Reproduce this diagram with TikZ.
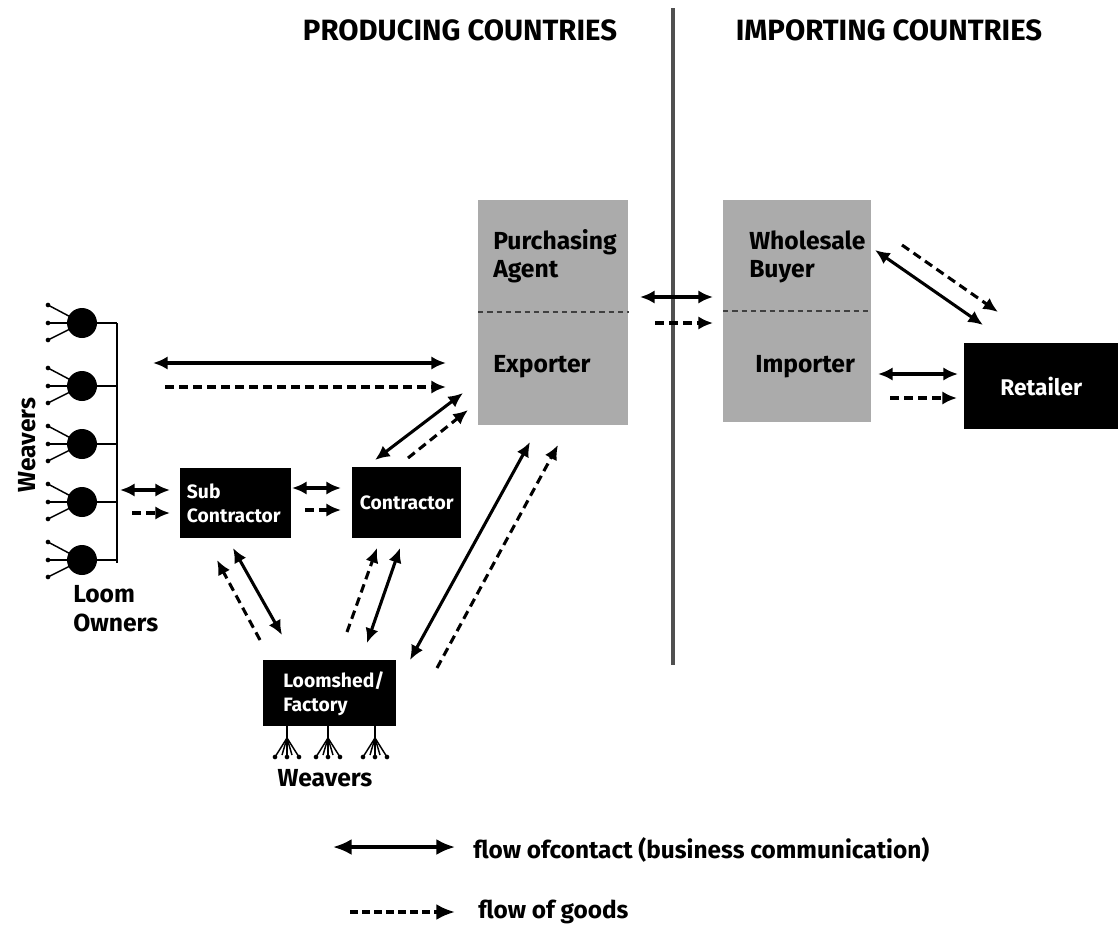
\documentclass[tikz,border=0pt]{standalone}
\usepackage{fontspec}
\setmainfont{Fira Sans}
\usetikzlibrary{arrows.meta}
\definecolor{boxgray}{RGB}{171,171,171}
\definecolor{linegray}{RGB}{80,80,80}

\begin{document}
\begin{tikzpicture}[x=0.75pt,y=-0.75pt]
\tikzset{black box/.style={shape=rectangle,fill=black,text=white,anchor=north west,inner sep=0pt,font=\bfseries\fontsize{14.5}{18.5}\selectfont},
         gray box/.style={shape=rectangle,fill=boxgray,anchor=north west,inner sep=0pt},
         box text/.style={anchor=west,align=left,inner sep=0pt,font=\bfseries\fontsize{18.5}{21}\selectfont},
         title/.style={inner sep=0pt,font=\bfseries\fontsize{22}{26}\selectfont},
         label text/.style={inner sep=0pt,font=\bfseries\fontsize{18.5}{21.75}\selectfont},
         contact/.style={line width=2.3pt,{Latex[length=11pt,width=10pt]}-{Latex[length=11pt,width=10pt]}},
         goods/.style={line width=2.3pt,dash pattern=on 6.5pt off 4pt,-{Latex[length=11pt,width=10pt]}},
         loom owner/.style={shape=circle,fill=black,minimum size=22.5pt,inner sep=0pt},
         weaver dot/.style={shape=circle,fill=black,minimum size=3.5pt,inner sep=0pt},
         weaver line/.style={line width=1.1pt},
}
\useasboundingbox (0,0) rectangle (1120,926);

% headings and border line
\node[title] (prod) at (460,30) {PRODUCING COUNTRIES};
\node[title] (imp)  at (889,30) {IMPORTING COUNTRIES};
\coordinate (bordertop) at (673,8);
\coordinate (borderbot) at (673,665);
\draw[line width=2.8pt, linegray] (bordertop) -- (borderbot);

% producing side
\node[gray box, minimum width=112.5pt, minimum height=168.75pt] (expbox) at (478,200) {};
\draw[line width=1pt, black!75, dash pattern=on 4pt off 3pt] (expbox.west |- 0,312) -- (expbox.east |- 0,312);
\node[box text] (pa)  at (493,256) {Purchasing\\Agent};
\node[box text] (exp) at (493,367) {Exporter};

\node[black box, minimum width=81pt, minimum height=52.5pt, text width=73pt, inner xsep=5pt, align=left] (sub) at (180,468) {Sub\\Contractor};
\node[black box, minimum width=81.75pt, minimum height=53.25pt, align=center] (con) at (352,467) {Contractor};
\node[black box, minimum width=99.75pt, minimum height=49.5pt, text width=69.75pt, inner xsep=15pt, align=left, font=\bfseries\fontsize{14.5}{18}\selectfont] (shed) at (263,660) {Loomshed/\\Factory};

% importing side
\node[gray box, minimum width=111pt, minimum height=166.5pt] (impbox) at (723,200) {};
\draw[line width=1pt, black!75, dash pattern=on 4pt off 3pt] (impbox.west |- 0,311) -- (impbox.east |- 0,311);
\node[box text] (wb)  at (749,257) {Wholesale\\Buyer};
\node[box text] (imr) at (755,367) {Importer};
\node[black box, minimum width=115.5pt, minimum height=64.5pt, font=\bfseries\fontsize{17}{20}\selectfont] (ret) at (964,343) {Retailer};

% loom owners with their weavers
\coordinate (bustop) at (117,323);
\coordinate (busbot) at (117,563);
\draw[line width=1.4pt] (bustop) -- (busbot);
\foreach \i/\y in {1/323,2/386,3/444,4/502,5/560}{
  \draw[line width=1.4pt] (82,\y) -- (117,\y);
  \foreach \dy [count=\j] in {-18,0,17}{
    \draw[weaver line] (82,\y) -- (48,\y+\dy);
    \node[weaver dot] (dot\i\j) at (48,\y+\dy) {};
  }
  \node[loom owner] (lo\i) at (82,\y) {};
}
\node[label text, rotate=90] (wv) at (27,445) {Weavers};
\node[label text, anchor=north west, align=left] (owners) at (73,585) {Loom\\Owners};

% weavers of the loomshed
\foreach \x [count=\i] in {287,328,375}{
  \draw[weaver line] (\x,726) -- (\x,738);
  \draw[weaver line] (\x,738) -- (\x-5,755) (\x,738) -- (\x+5,755);
  \foreach \dx [count=\j] in {-12,0,12}{
    \draw[weaver line] (\x,738) -- (\x+\dx,757);
    \node[weaver dot] (sd\i\j) at (\x+\dx,757) {};
  }
}
\node[label text] (wv2) at (325,778) {Weavers};

% arrow ends
\coordinate (b1) at (120,490);  \coordinate (b2) at (170,490);
\coordinate (b3) at (132,513);  \coordinate (b4) at (170,513);
\coordinate (l1) at (153,363);  \coordinate (l2) at (446,363);
\coordinate (l3) at (165,387);  \coordinate (l4) at (446,387);
\coordinate (s1) at (292,488);  \coordinate (s2) at (341,488);
\coordinate (s3) at (305,510);  \coordinate (s4) at (341,510);
\coordinate (c1) at (375,460);  \coordinate (c2) at (463,393);
\coordinate (c3) at (408,458);  \coordinate (c4) at (468,410);
\coordinate (f1) at (410,660);  \coordinate (f2) at (530,442);
\coordinate (f3) at (437,668);  \coordinate (f4) at (558,445);
\coordinate (g1) at (367,643);  \coordinate (g2) at (400,548);
\coordinate (g3) at (347,632);  \coordinate (g4) at (377,548);
\coordinate (h1) at (233,548);  \coordinate (h2) at (282,635);
\coordinate (h3) at (260,640);  \coordinate (h4) at (217,560);
\coordinate (e1) at (640,297);  \coordinate (e2) at (713,297);
\coordinate (e3) at (655,323);  \coordinate (e4) at (713,323);
\coordinate (w1) at (875,250);  \coordinate (w2) at (983,325);
\coordinate (w3) at (902,245);  \coordinate (w4) at (998,312);
\coordinate (i1) at (878,374);  \coordinate (i2) at (958,374);
\coordinate (i3) at (890,398);  \coordinate (i4) at (957,398);

\path[every edge/.append style={contact}]
            (b1)     edge    (b2)
            (l1)     edge    (l2)
            (s1)     edge    (s2)
            (c1)     edge    (c2)
            (f1)     edge    (f2)
            (g1)     edge    (g2)
            (h1)     edge    (h2)
            (e1)     edge    (e2)
            (w1)     edge    (w2)
            (i1)     edge    (i2)
;
\path[every edge/.append style={goods}]
            (b3)     edge    (b4)
            (l3)     edge    (l4)
            (s3)     edge    (s4)
            (c3)     edge    (c4)
            (f3)     edge    (f4)
            (g3)     edge    (g4)
            (h3)     edge    (h4)
            (e3)     edge    (e4)
            (w3)     edge    (w4)
            (i3)     edge    (i4)
;

% legend
\coordinate (k1) at (333,847);  \coordinate (k2) at (455,847);
\coordinate (k3) at (350,912);  \coordinate (k4) at (455,912);
\draw[line width=2.4pt, {Latex[length=14pt,width=12pt]}-{Latex[length=14pt,width=12pt]}] (k1) -- (k2);
\draw[line width=2.6pt, dash pattern=on 6pt off 3pt, -{Latex[length=14pt,width=12pt]}] (k3) -- (k4);
\node[label text, anchor=west, font=\bfseries\fontsize{18.3}{21}\selectfont] (leg1) at (473,850) {flow ofcontact (business communication)};
\node[label text, anchor=west, font=\bfseries\fontsize{18.3}{21}\selectfont] (leg2) at (478,912) {flow of goods};
\end{tikzpicture}
\end{document}
